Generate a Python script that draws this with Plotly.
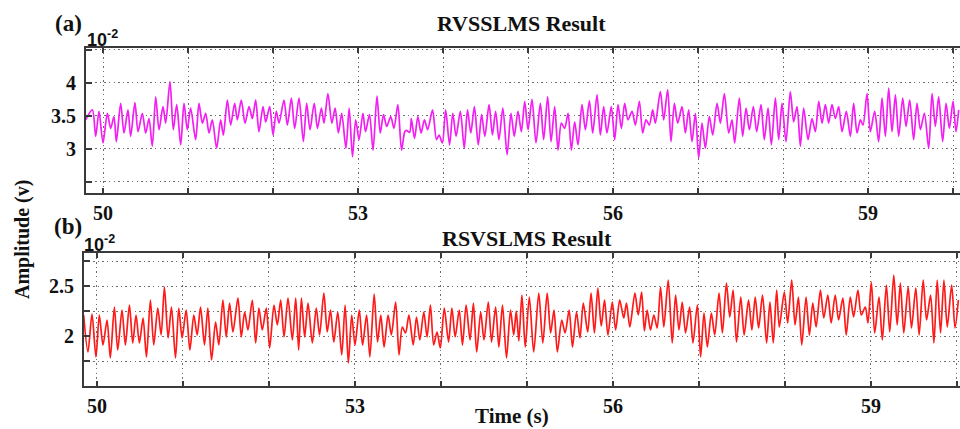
import plotly.graph_objects as go

# RVSSLMS filter output: time (s) and amplitude (x 10^-2 V)
rvsslms_t = [
    49.796, 49.875, 49.914, 49.953, 50.000, 50.051, 50.090, 50.129, 50.157, 50.208,
    50.247, 50.294, 50.325, 50.376, 50.412, 50.463, 50.502, 50.541, 50.580, 50.620,
    50.659, 50.706, 50.737, 50.788, 50.827, 50.867, 50.914, 50.953, 50.992, 51.031,
    51.090, 51.129, 51.169, 51.208, 51.247, 51.286, 51.337, 51.384, 51.416, 51.463,
    51.502, 51.549, 51.580, 51.627, 51.671, 51.718, 51.757, 51.796, 51.835, 51.882,
    51.914, 51.961, 52.000, 52.039, 52.071, 52.129, 52.169, 52.216, 52.255, 52.306,
    52.357, 52.396, 52.435, 52.485, 52.523, 52.569, 52.600, 52.646, 52.692, 52.731,
    52.769, 52.808, 52.858, 52.896, 52.935, 52.973, 53.012, 53.058, 53.088, 53.135,
    53.177, 53.223, 53.262, 53.300, 53.338, 53.385, 53.423, 53.469, 53.512, 53.550,
    53.569, 53.608, 53.627, 53.665, 53.704, 53.742, 53.781, 53.819, 53.877, 53.923,
    53.954, 53.992, 54.031, 54.077, 54.115, 54.154, 54.204, 54.250, 54.288, 54.327,
    54.369, 54.415, 54.454, 54.492, 54.542, 54.581, 54.619, 54.658, 54.704, 54.754,
    54.800, 54.838, 54.882, 54.922, 54.961, 55.000, 55.047, 55.094, 55.145, 55.184,
    55.231, 55.271, 55.314, 55.353, 55.392, 55.431, 55.471, 55.510, 55.549, 55.588,
    55.635, 55.675, 55.722, 55.761, 55.812, 55.851, 55.890, 55.929, 55.980, 56.020,
    56.059, 56.098, 56.137, 56.176, 56.224, 56.263, 56.310, 56.349, 56.388, 56.427,
    56.467, 56.498, 56.557, 56.596, 56.643, 56.682, 56.722, 56.761, 56.812, 56.851,
    56.890, 56.929, 56.969, 57.008, 57.047, 57.086, 57.133, 57.173, 57.224, 57.263,
    57.310, 57.361, 57.400, 57.431, 57.486, 57.525, 57.565, 57.604, 57.651, 57.690,
    57.741, 57.780, 57.824, 57.863, 57.910, 57.949, 57.988, 58.035, 58.086, 58.125,
    58.165, 58.204, 58.243, 58.294, 58.341, 58.380, 58.420, 58.459, 58.498, 58.537,
    58.576, 58.616, 58.655, 58.694, 58.745, 58.792, 58.831, 58.871, 58.910, 58.941,
    58.988, 59.027, 59.078, 59.125, 59.165, 59.204, 59.243, 59.282, 59.322, 59.361,
    59.408, 59.447, 59.490, 59.537, 59.576, 59.616, 59.663, 59.714, 59.753, 59.792,
    59.831, 59.878, 59.918, 59.957, 60.000, 60.035, 60.067,
]
rvsslms_amp = [
    3.44, 3.59, 3.19, 3.57, 3.09, 3.54, 3.31, 3.49, 3.11, 3.69,
    3.24, 3.59, 3.19, 3.70, 3.26, 3.54, 3.24, 3.46, 3.04, 3.79,
    3.29, 3.64, 3.39, 4.02, 3.29, 3.67, 3.06, 3.69, 3.29, 3.62,
    3.14, 3.69, 3.39, 3.54, 3.24, 3.44, 3.01, 3.44, 3.21, 3.74,
    3.36, 3.69, 3.44, 3.74, 3.39, 3.64, 3.46, 3.74, 3.26, 3.64,
    3.41, 3.64, 3.21, 3.57, 3.39, 3.74, 3.36, 3.77, 3.31, 3.77,
    3.11, 3.69, 3.29, 3.69, 3.31, 3.62, 3.39, 3.84, 3.39, 3.62,
    3.24, 3.54, 3.01, 3.62, 2.88, 3.44, 3.14, 3.54, 3.26, 3.52,
    2.98, 3.80, 3.24, 3.52, 3.34, 3.49, 3.31, 3.67, 2.98, 3.26,
    3.28, 3.25, 3.46, 3.16, 3.49, 3.24, 3.44, 3.29, 3.59, 3.14,
    3.21, 3.09, 3.59, 3.06, 3.54, 3.19, 3.57, 3.01, 3.59, 3.24,
    3.64, 3.06, 3.52, 3.19, 3.67, 3.21, 3.57, 3.14, 3.62, 2.91,
    3.54, 3.19, 3.57, 3.26, 3.72, 3.29, 3.75, 3.09, 3.69, 3.14,
    3.79, 3.11, 3.64, 2.98, 3.39, 3.31, 3.54, 2.98, 3.41, 3.06,
    3.67, 3.29, 3.73, 3.24, 3.82, 3.21, 3.64, 3.24, 3.64, 3.14,
    3.67, 3.31, 3.69, 3.44, 3.57, 3.36, 3.72, 3.24, 3.44, 3.36,
    3.59, 3.39, 3.87, 3.44, 3.90, 3.11, 3.69, 3.39, 3.64, 3.24,
    3.59, 3.11, 3.54, 2.86, 3.39, 3.01, 3.49, 3.21, 3.69, 3.39,
    3.84, 3.24, 3.44, 3.09, 3.77, 3.19, 3.62, 3.29, 3.64, 3.26,
    3.67, 3.14, 3.62, 3.06, 3.77, 3.14, 3.69, 3.11, 3.87, 3.41,
    3.64, 3.04, 3.62, 3.14, 3.46, 3.26, 3.72, 3.39, 3.67, 3.39,
    3.67, 3.46, 3.64, 3.26, 3.57, 3.19, 3.69, 3.24, 3.44, 3.36,
    3.84, 3.26, 3.57, 3.11, 3.77, 3.19, 3.92, 3.26, 3.82, 3.19,
    3.77, 3.34, 3.74, 3.14, 3.69, 3.29, 3.54, 3.01, 3.84, 3.34,
    3.79, 3.11, 3.69, 3.31, 3.72, 3.26, 3.59,
]

# RSVSLMS filter output: time (s) and amplitude (x 10^-2 V)
rsvslms_t = [
    49.845, 49.895, 49.942, 49.988, 50.027, 50.070, 50.117, 50.155, 50.202, 50.241,
    50.291, 50.330, 50.377, 50.416, 50.454, 50.493, 50.536, 50.575, 50.621, 50.660,
    50.707, 50.746, 50.784, 50.827, 50.866, 50.913, 50.951, 50.990, 51.037, 51.080,
    51.126, 51.165, 51.204, 51.250, 51.289, 51.332, 51.379, 51.417, 51.464, 51.503,
    51.542, 51.581, 51.639, 51.678, 51.717, 51.755, 51.806, 51.845, 51.883, 51.922,
    51.969, 52.008, 52.058, 52.097, 52.136, 52.175, 52.221, 52.272, 52.311, 52.345,
    52.377, 52.415, 52.454, 52.504, 52.550, 52.588, 52.638, 52.677, 52.715, 52.754,
    52.800, 52.846, 52.885, 52.923, 52.962, 53.000, 53.050, 53.088, 53.135, 53.173,
    53.223, 53.262, 53.300, 53.338, 53.385, 53.423, 53.473, 53.512, 53.550, 53.588,
    53.627, 53.677, 53.715, 53.754, 53.800, 53.838, 53.877, 53.915, 53.954, 53.992,
    54.038, 54.088, 54.127, 54.165, 54.212, 54.250, 54.292, 54.338, 54.377, 54.415,
    54.462, 54.500, 54.550, 54.588, 54.635, 54.673, 54.715, 54.762, 54.808, 54.846,
    54.875, 54.905, 54.941, 54.980, 55.027, 55.078, 55.137, 55.184, 55.235, 55.275,
    55.314, 55.353, 55.404, 55.443, 55.490, 55.529, 55.576, 55.616, 55.655, 55.706,
    55.745, 55.784, 55.824, 55.863, 55.902, 55.941, 55.992, 56.031, 56.078, 56.125,
    56.157, 56.196, 56.255, 56.294, 56.333, 56.365, 56.397, 56.436, 56.475, 56.514,
    56.553, 56.591, 56.642, 56.689, 56.728, 56.767, 56.805, 56.844, 56.891, 56.930,
    56.981, 57.019, 57.058, 57.097, 57.144, 57.183, 57.233, 57.272, 57.319, 57.358,
    57.397, 57.436, 57.486, 57.525, 57.576, 57.615, 57.654, 57.693, 57.739, 57.786,
    57.825, 57.864, 57.903, 57.934, 57.992, 58.031, 58.078, 58.117, 58.156, 58.195,
    58.245, 58.284, 58.323, 58.362, 58.412, 58.451, 58.498, 58.537, 58.584, 58.623,
    58.673, 58.712, 58.759, 58.798, 58.848, 58.887, 58.934, 58.965, 59.004, 59.043,
    59.093, 59.132, 59.179, 59.218, 59.265, 59.304, 59.342, 59.381, 59.432, 59.471,
    59.521, 59.560, 59.607, 59.646, 59.693, 59.732, 59.770, 59.809, 59.848, 59.887,
    59.938, 59.977, 60.016,
]
rsvslms_amp = [
    2.21, 1.84, 2.22, 1.79, 2.21, 1.91, 2.16, 1.78, 2.29, 1.86,
    2.26, 1.91, 2.31, 1.93, 2.21, 1.93, 2.18, 1.79, 2.36, 1.91,
    2.28, 2.01, 2.49, 1.98, 2.29, 1.78, 2.28, 1.98, 2.26, 1.86,
    2.21, 2.01, 2.29, 1.91, 2.28, 1.76, 2.14, 1.91, 2.36, 1.99,
    2.33, 2.04, 2.38, 1.99, 2.24, 2.06, 2.36, 1.93, 2.28, 2.06,
    2.28, 1.88, 2.31, 2.11, 2.36, 1.99, 2.38, 1.96, 2.38, 1.86,
    2.38, 1.99, 2.33, 1.93, 2.28, 2.01, 2.43, 2.04, 2.26, 1.94,
    2.24, 1.81, 2.31, 1.73, 2.21, 1.91, 2.26, 1.91, 2.21, 1.79,
    2.42, 1.94, 2.21, 1.89, 2.21, 2.01, 2.34, 1.81, 2.09, 2.03,
    2.21, 1.91, 2.19, 1.96, 2.24, 1.99, 2.31, 1.91, 2.04, 1.88,
    2.28, 1.94, 2.28, 1.99, 2.26, 1.91, 2.31, 1.96, 2.33, 1.84,
    2.24, 1.96, 2.34, 1.94, 2.29, 1.89, 2.31, 1.78, 2.26, 2.01,
    2.25, 1.95, 2.41, 1.89, 2.39, 1.84, 2.43, 1.93, 2.43, 2.03,
    2.26, 1.84, 2.16, 2.03, 2.26, 1.89, 2.24, 1.98, 2.33, 2.04,
    2.43, 2.03, 2.48, 2.10, 2.36, 2.01, 2.34, 2.06, 2.36, 2.18,
    2.33, 2.09, 2.43, 2.21, 2.44, 2.05, 2.26, 2.06, 2.21, 2.08,
    2.49, 2.09, 2.56, 1.93, 2.41, 2.06, 2.34, 2.03, 2.29, 1.93,
    2.31, 1.79, 2.23, 1.89, 2.23, 2.01, 2.43, 2.03, 2.53, 2.19,
    2.46, 1.94, 2.39, 2.01, 2.36, 2.06, 2.39, 2.08, 2.41, 1.93,
    2.34, 1.93, 2.46, 2.09, 2.44, 2.13, 2.56, 2.11, 2.39, 1.91,
    2.39, 2.01, 2.33, 2.09, 2.46, 2.18, 2.41, 2.13, 2.41, 2.16,
    2.38, 2.01, 2.39, 2.19, 2.46, 2.21, 2.29, 2.13, 2.54, 2.03,
    2.39, 1.96, 2.51, 2.04, 2.61, 2.11, 2.53, 2.03, 2.49, 2.08,
    2.48, 2.01, 2.56, 2.16, 2.41, 1.93, 2.56, 2.03, 2.56, 2.09,
    2.51, 2.08, 2.36,
]

# Axis tick definitions
x_tickvals = list(range(50, 61))
x_ticktext = ["50", "", "", "53", "", "", "56", "", "", "59", ""]
top_y_tickvals = [2.5, 3.0, 3.5, 4.0, 4.5]
top_y_ticktext = ["", "3", "3.5", "4", ""]
bot_y_tickvals = [1.75, 2.0, 2.25, 2.5, 2.75]
bot_y_ticktext = ["", "2", "", "2.5", ""]

W, H = 960, 429
SERIF = "Liberation Serif"
FRAME = "#3a3a3a"
GRID = "#6e6e6e"
DOTS = "1.4px,3.2px"


def py(p):
    """Pixel row (from top) to paper y."""
    return 1 - p / H


def px(p):
    return p / W


fig = go.Figure()
fig.add_trace(go.Scatter(x=rvsslms_t, y=rvsslms_amp, mode="lines",
                         line=dict(color="#f21ef2", width=1.7, shape="spline",
                                   smoothing=0.8),
                         xaxis="x", yaxis="y", showlegend=False))
fig.add_trace(go.Scatter(x=rsvslms_t, y=rsvslms_amp, mode="lines",
                         line=dict(color="#ff1a1a", width=1.7, shape="spline",
                                   smoothing=0.8),
                         xaxis="x2", yaxis="y2", showlegend=False))

tickfont = dict(family=SERIF, size=20, color="#111", weight="bold")

common_x = dict(
    tickvals=x_tickvals, ticktext=x_ticktext, ticks="inside", ticklen=5,
    tickwidth=2, tickcolor=FRAME, showline=True, linecolor=FRAME, linewidth=2,
    mirror="ticks", showgrid=True, gridcolor=GRID, gridwidth=1, griddash=DOTS,
    zeroline=False, tickfont=tickfont, ticklabelstandoff=1,
)
common_y = dict(
    ticks="inside", ticklen=6, tickwidth=2, tickcolor=FRAME, showline=True,
    linecolor=FRAME, linewidth=2, mirror=False, showgrid=True, gridcolor=GRID,
    gridwidth=1, griddash=DOTS, zeroline=False, tickfont=tickfont,
    ticklabelstandoff=4,
)

fig.update_layout(
    width=W, height=H,
    margin=dict(l=0, r=0, t=0, b=0),
    paper_bgcolor="white", plot_bgcolor="white",
    xaxis=dict(domain=[px(86), 1.0], range=[49.8, 60.082], anchor="y", **common_x),
    yaxis=dict(domain=[py(193), py(48)], range=[2.33, 4.53], anchor="x",
               tickvals=top_y_tickvals, ticktext=top_y_ticktext, **common_y),
    xaxis2=dict(domain=[px(84), 1.0], range=[49.849, 60.035], anchor="y2", **common_x),
    yaxis2=dict(domain=[py(386), py(253)], range=[1.5, 2.83], anchor="x2",
                tickvals=bot_y_tickvals, ticktext=bot_y_ticktext, **common_y),
)


def bold_serif(s):
    return dict(family=SERIF, size=s, color="#111", weight="bold")


sans_exp = dict(family="Liberation Sans", size=18, color="#111", weight="bold")
annotations = [
    dict(text="(a)", x=px(68), y=py(24), font=bold_serif(23)),
    dict(text="(b)", x=px(68), y=py(227), font=bold_serif(23)),
    dict(text="RVSSLMS Result", x=px(521), y=py(24), font=bold_serif(22)),
    dict(text="RSVSLMS Result", x=px(527), y=py(238), font=bold_serif(22)),
    dict(text="10<sup>-2</sup>", x=px(85), y=py(38), xanchor="left",
         font=sans_exp),
    dict(text="10<sup>-2</sup>", x=px(82), y=py(244), xanchor="left",
         font=sans_exp),
    dict(text="Amplitude (v)", x=px(22), y=py(240), textangle=-90,
         font=bold_serif(20)),
    dict(text="Time (s)", x=px(512), y=py(416), font=bold_serif(21)),
]
for a in annotations:
    a.setdefault("xanchor", "center")
    a.update(xref="paper", yref="paper", showarrow=False, yanchor="middle")
fig.update_layout(annotations=annotations)

fig.write_html("out.html")
